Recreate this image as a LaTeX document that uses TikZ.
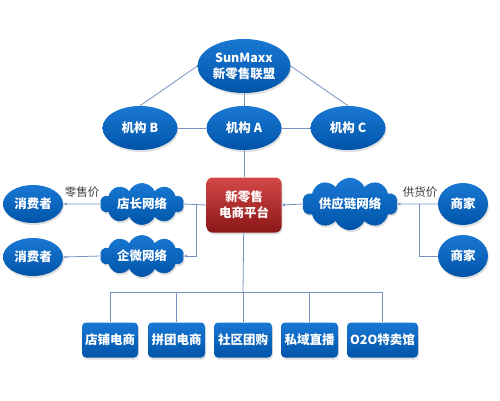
\documentclass[tikz,border=0pt]{standalone}
\usepackage{fontspec}
\setmainfont{Noto Sans CJK SC}
\usetikzlibrary{shapes.geometric, shapes.symbols, arrows.meta, shadows}

\definecolor{orgblue}{RGB}{8,102,196}
\definecolor{orgblueup}{RGB}{25,120,212}
\definecolor{orgbluedn}{RGB}{0,84,168}
\definecolor{platup}{RGB}{212,72,72}
\definecolor{platdn}{RGB}{138,22,22}
\definecolor{linkcol}{RGB}{118,145,192}
\definecolor{pricecol}{RGB}{60,60,60}

\tikzset{
  bluebase/.style={top color=orgblueup, bottom color=orgbluedn, text=white,
    font=\fontsize{12.5}{16}\selectfont\bfseries, align=center, inner sep=0pt,
    drop shadow={opacity=0.25, shadow xshift=1pt, shadow yshift=-2pt}},
  orgnode/.style={bluebase, ellipse, minimum width=#1, minimum height=44pt},
  orgnode/.default=75pt,
  netcloud/.style={bluebase, cloud, cloud puffs=10, cloud puff arc=130, aspect=2.4,
    minimum width=#1, minimum height=37pt},
  netcloud/.default=84pt,
  channel/.style={bluebase, rectangle, rounded corners=4pt, minimum width=#1,
    minimum height=35pt},
  link/.style={draw=linkcol, line width=0.8pt},
  flow/.style={link, -{Stealth[length=4pt, width=3pt]}},
  pricetag/.style={text=pricecol, font=\fontsize{11.5}{13}\selectfont, inner sep=1pt}
}

\begin{document}
\begin{tikzpicture}[x=1pt, y=-1pt]
\useasboundingbox (0,0) rectangle (500,400);

% alliance and members
\node [orgnode=93pt, minimum height=54pt] (sun) at (244,66) {SunMaxx\\新零售联盟};
\node [orgnode] (orgb) at (140,128) {机构 B};
\node [orgnode] (orga) at (244,128) {机构 A};
\node [orgnode] (orgc) at (348,128) {机构 C};

% platform
\node [bluebase, rectangle, rounded corners=6pt, top color=platup, bottom color=platdn,
  minimum width=75pt, minimum height=55pt] (plat) at (244,205) {新零售\\电商平台};

% networks
\node [netcloud] (dianzhang) at (142,204) {店长网络};
\node [netcloud] (qiwei) at (142,256) {企微网络};
\node [netcloud=96pt, minimum height=38pt] (supply) at (350,204) {供应链网络};

% consumers and merchants
\node [orgnode=60pt, minimum height=38pt] (buyer1) at (33,204) {消费者};
\node [orgnode=60pt, minimum height=38pt] (buyer2) at (33,257) {消费者};
\node [orgnode=50pt, minimum height=42pt] (seller1) at (463,204) {商家};
\node [orgnode=50pt, minimum height=42pt] (seller2) at (463,256) {商家};

% sales channels
\node [channel=56pt] (ch1) at (110,340) {店铺电商};
\node [channel=57pt] (ch2) at (176.5,340) {拼团电商};
\node [channel=58pt] (ch3) at (243,340) {社区团购};
\node [channel=57pt] (ch4) at (309.5,340) {私域直播};
\node [channel=71pt] (ch5) at (382.5,340) {O2O特卖馆};

% links on top
\draw [link] (sun.west) -- (orgb.north);
\draw [link] (sun) -- (orga);
\draw [link] (sun.east) -- (orgc.north);
\draw [link] (orgb) -- (orga);
\draw [link] (orga) -- (orgc);
\draw [link] (orga) -- (plat);

% left side
\coordinate (leftjoin) at (196,204);
\draw [link] (plat.west) -- (dianzhang.east);
\draw [flow] (leftjoin) |- (qiwei.east);
\draw [flow] (dianzhang.west) -- (buyer1.east);
\draw [flow] (qiwei.west) -- (buyer2.east);
\node [pricetag] (retail) at (82,192) {零售价};

% right side
\coordinate (rightjoin) at (419,204);
\draw [flow] (supply.west) -- (plat.east);
\draw [flow] (seller1.west) -- (supply.east);
\draw [link] (seller2.west) -| (rightjoin);
\node [pricetag] (wholesale) at (420,192) {供货价};

% bottom bus
\coordinate (bus) at (243,292);
\draw [link] (plat) -- (bus);
\draw [link] (bus -| ch1.north) -- (bus -| ch5.north);
\foreach \ch in {ch1,ch2,ch3,ch4,ch5}
  \draw [link] (bus -| \ch.north) -- (\ch.north);
\end{tikzpicture}
\end{document}
